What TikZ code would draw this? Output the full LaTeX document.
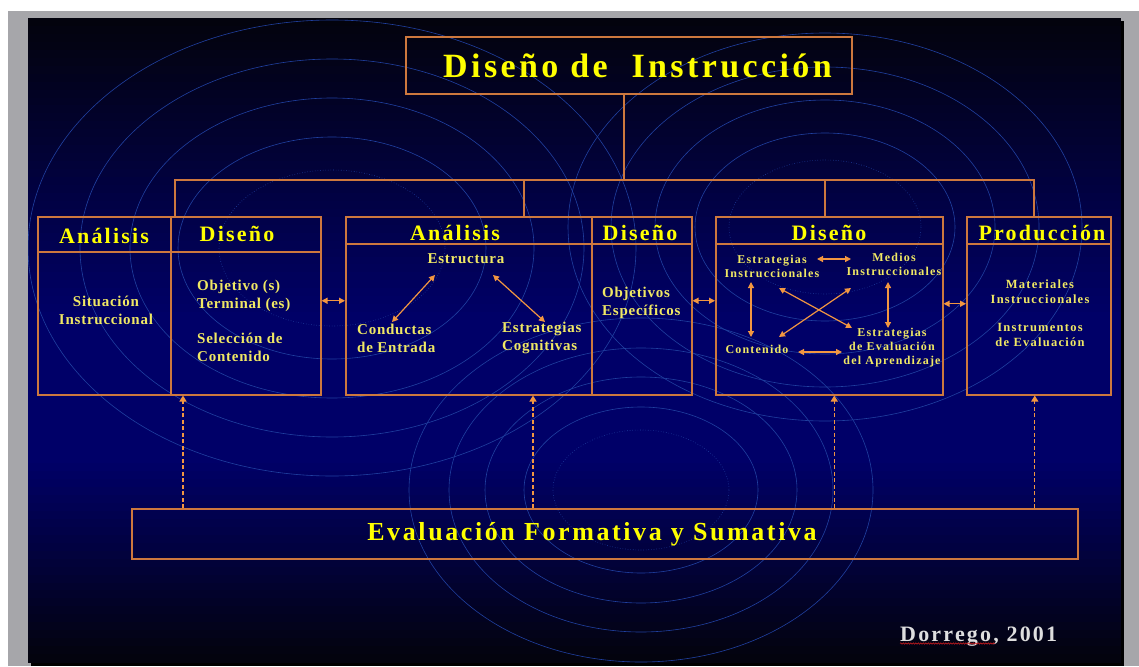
\documentclass[tikz,border=0pt]{standalone}
\usepackage{fontspec}
\setmainfont{Liberation Serif}
\usepackage{tikz}
\usetikzlibrary{arrows.meta}
\usetikzlibrary{calc}
\usetikzlibrary{positioning}
\usetikzlibrary{decorations.pathmorphing}
\definecolor{slidenavy}{RGB}{0,0,104}
\definecolor{slidetop}{RGB}{3,3,12}
\definecolor{ringblue}{RGB}{32,64,160}
\definecolor{frameline}{RGB}{205,120,62}
\definecolor{arrowtan}{RGB}{242,150,65}
\definecolor{headyellow}{RGB}{255,255,0}
\definecolor{bodyyellow}{RGB}{240,232,100}
\definecolor{backdrop}{RGB}{166,166,170}
\definecolor{citegray}{RGB}{222,222,222}
\definecolor{spellred}{RGB}{220,30,30}
\newfontfamily\slidefont[LetterSpace=10]{Liberation Serif}
\newfontfamily\bodyserif[LetterSpace=5]{Liberation Serif}
\newcommand{\titlefont}{\slidefont\bfseries\fontsize{34}{40}\selectfont}
\newcommand{\headfont}{\slidefont\bfseries\fontsize{22}{26}\selectfont}
\newcommand{\bodyfont}{\bodyserif\bfseries\fontsize{15}{18}\selectfont}
\newcommand{\minifont}{\slidefont\bfseries\fontsize{12}{14}\selectfont}
\newcommand{\evalfont}{\slidefont\bfseries\fontsize{26}{30}\selectfont}
\newcommand{\citefont}{\slidefont\bfseries\fontsize{22}{26}\selectfont}

\begin{document}
\begin{tikzpicture}[x=1pt,y=-1pt,
  panel/.style={draw=frameline, line width=1.5pt, minimum height=178pt, inner sep=0pt, anchor=north west},
  head/.style={text=headyellow, font=\headfont, inner sep=0pt},
  body/.style={text=bodyyellow, font=\bodyfont, inner sep=0pt, align=left},
  mini/.style={text=bodyyellow, font=\minifont, inner sep=0pt, align=center},
  wire/.style={draw=frameline, line width=1.6pt},
  dbl/.style={draw=arrowtan, line width=1.2pt, {Triangle[width=6pt,length=6pt]}-{Triangle[width=6pt,length=6pt]}},
  upflow/.style={draw=arrowtan, line width=1.2pt, dash pattern=on 4pt off 2.5pt, -{Triangle[width=7pt,length=6pt]}},
  ring/.style={draw=ringblue, line width=0.6pt},
  ringdot/.style={draw=ringblue, line width=0.6pt, dotted}]
  \useasboundingbox (0,0) rectangle (1139,666);
  \fill[white] (0,0) rectangle (1139,666);
  \fill[backdrop] (8,11) rectangle (1139,666);
  \fill[black] (31,21) rectangle (1124,666);

  \begin{scope}
    \clip (28,18) rectangle (1121,662);
    % slide gradient in strips
    \foreach \i in {0,...,80} {
      \pgfmathsetmacro\ya{18+\i*7.9506}
      \pgfmathsetmacro\yb{\ya+8.5}
      \pgfmathsetmacro\ym{\ya+4}
      \pgfmathsetmacro\p{\ym<320 ? (\ym-18)/3.02 : (\ym<460 ? 100 : (662-\ym)/2.02)}
      \fill[slidenavy!\p!slidetop] (28,\ya) rectangle (1121,\yb);
    }
    \foreach \rx/\ry/\s in {113/78/ringdot,154/111/ring,202/150/ring,252/189/ring,304/228/ring} {
      \draw[\s] (332,248) ellipse [x radius=\rx, y radius=\ry];
    }
    \foreach \rx/\ry/\s in {96/67/ringdot,130/94/ring,170/127/ring,214/160/ring,257/194/ring} {
      \draw[\s] (825,227) ellipse [x radius=\rx, y radius=\ry];
    }
    \foreach \rx/\ry/\s in {88/60/ringdot,117/83/ring,156/113/ring,192/142/ring,232/172/ring} {
      \draw[\s] (641,490) ellipse [x radius=\rx, y radius=\ry];
    }
  \end{scope}

  % title and panels
  \node[draw=frameline, line width=1.5pt, minimum width=446pt, minimum height=57pt, inner sep=0pt,
    text=headyellow, font=\titlefont] (title) at (629,65.5) {\hspace*{17pt}Diseño de\ \ Instrucción};

  \node[panel, minimum width=133pt] (ana1) at (37,216) {};
  \node[panel, minimum width=150pt] (dis1) at (170,216) {};
  \node[panel, minimum width=246pt] (ana2) at (345,216) {};
  \node[panel, minimum width=100pt] (dis2) at (591,216) {};
  \node[panel, minimum width=227pt] (dis3) at (715,216) {};
  \node[panel, minimum width=144pt] (prod) at (966,216) {};

  \draw[wire] ([yshift=-36pt]ana1.north west) -- ([yshift=-36pt]dis1.north east);
  \draw[wire] ([yshift=-28pt]ana2.north west) -- ([yshift=-28pt]dis2.north east);
  \draw[wire] ([yshift=-28pt]dis3.north west) -- ([yshift=-28pt]dis3.north east);
  \draw[wire] ([yshift=-28pt]prod.north west) -- ([yshift=-28pt]prod.north east);

  \node[head] (h1) at (104,236) {Análisis};
  \node[head] (h2) at (237,234) {Diseño};
  \node[head] (h3) at (455,233) {Análisis};
  \node[head] (h4) at (640,233) {Diseño};
  \node[head] (h5) at (829,233) {Diseño};
  \node[head] (h6) at (1042,233) {Producción};

  \node[body, align=center] (sit) at (106,310) {Situación\\Instruccional};
  \node[body, anchor=west] (obj) at (197,296) {Objetivo (s)\\Terminal (es)};
  \node[body, anchor=west] (sel) at (197,347) {Selección de\\Contenido};
  \node[body] (estr) at (466,259) {Estructura};
  \node[body, anchor=west] (cond) at (357,338) {Conductas\\de Entrada};
  \node[body, anchor=west] (cogn) at (502,338) {Estrategias\\Cognitivas};
  \node[body, anchor=west] (oesp) at (602,303) {Objetivos\\Específicos};

  \node[mini] (ei) at (772,266) {Estrategias\\Instruccionales};
  \node[mini] (mi) at (894,264) {Medios\\Instruccionales};
  \node[mini] (cont) at (757,349) {Contenido};
  \node[mini] (eea) at (892,348) {Estrategias\\de Evaluación\\del Aprendizaje};
  \node[mini, font=\minifont\fontsize{12.5}{15}\selectfont] (mat) at (1040,292) {Materiales\\Instruccionales};
  \node[mini, font=\minifont\fontsize{12.5}{15}\selectfont] (inst) at (1040,335) {Instrumentos\\de Evaluación};

  \node[draw=frameline, line width=1.5pt, minimum width=946pt, minimum height=50pt, inner sep=0pt,
    text=headyellow, font=\evalfont] (eval) at (605,534) {Evaluación Formativa y Sumativa\hspace*{26pt}};

  \node[text=citegray, font=\citefont, anchor=base west, inner sep=0pt] (cite) at (900,641) {Dorrego, 2001};
  \draw[spellred, line width=0.5pt, decorate, decoration={snake, amplitude=0.7pt, segment length=2.5pt}]
    ([yshift=-2.5pt]cite.base west) -- ([xshift=95pt,yshift=-2.5pt]cite.base west);

  % tree lines
  \coordinate (bus) at (0,180);
  \coordinate (t0) at ([xshift=-5pt]title.south);
  \coordinate (d1) at ([xshift=5pt]dis1.north west);
  \coordinate (d2) at ([xshift=179pt]ana2.north west);
  \coordinate (d3) at ([xshift=-4pt]dis3.north);
  \coordinate (d4) at ([xshift=-5pt]prod.north);
  \draw[wire] (d1) -- (d1 |- bus) -- (d4 |- bus) -- (d4);
  \foreach \d in {t0,d2,d3} {
    \draw[wire] (\d) -- (\d |- bus);
  }

  % links between panels
  \draw[dbl] ([yshift=5pt]dis1.east) -- ([yshift=5pt]ana2.west);
  \draw[dbl] ([yshift=5pt]dis2.east) -- ([yshift=5pt]dis3.west);
  \draw[dbl] ([yshift=2pt]dis3.east) -- ([yshift=2pt]prod.west);

  \draw[dbl] ([xshift=-31pt,yshift=-16pt]estr.center) -- ([xshift=35pt,yshift=16pt]cond.west);
  \draw[dbl] ([xshift=27pt,yshift=-16pt]estr.center) -- ([xshift=43pt,yshift=16pt]cogn.west);

  \draw[dbl] ([xshift=45pt,yshift=7pt]ei.center) -- ([xshift=-43pt,yshift=5pt]mi.center);
  \draw[dbl] ([xshift=-21pt,yshift=-16pt]ei.center) -- ([xshift=-6pt,yshift=12pt]cont.center);
  \draw[dbl] ([xshift=-6pt,yshift=-18pt]mi.center) -- ([xshift=-4pt,yshift=20pt]eea.center);
  \draw[dbl] ([xshift=7pt,yshift=-22pt]ei.center) -- ([xshift=-40pt,yshift=20pt]eea.center);
  \draw[dbl] ([xshift=-43pt,yshift=-24pt]mi.center) -- ([xshift=22pt,yshift=12pt]cont.center);
  \draw[dbl] ([xshift=41pt,yshift=-3pt]cont.center) -- ([xshift=-50pt,yshift=-4pt]eea.center);

  % feedback from the evaluation
  \coordinate (u1) at ([xshift=13pt]dis1.south west);
  \coordinate (u2) at ([xshift=188pt]ana2.south west);
  \coordinate (u3) at ([xshift=5pt]dis3.south);
  \coordinate (u4) at ([xshift=-4pt]prod.south);
  \foreach \u in {u1,u2,u3,u4} {
    \draw[upflow] (eval.north -| \u) -- (\u);
  }
\end{tikzpicture}
\end{document}
